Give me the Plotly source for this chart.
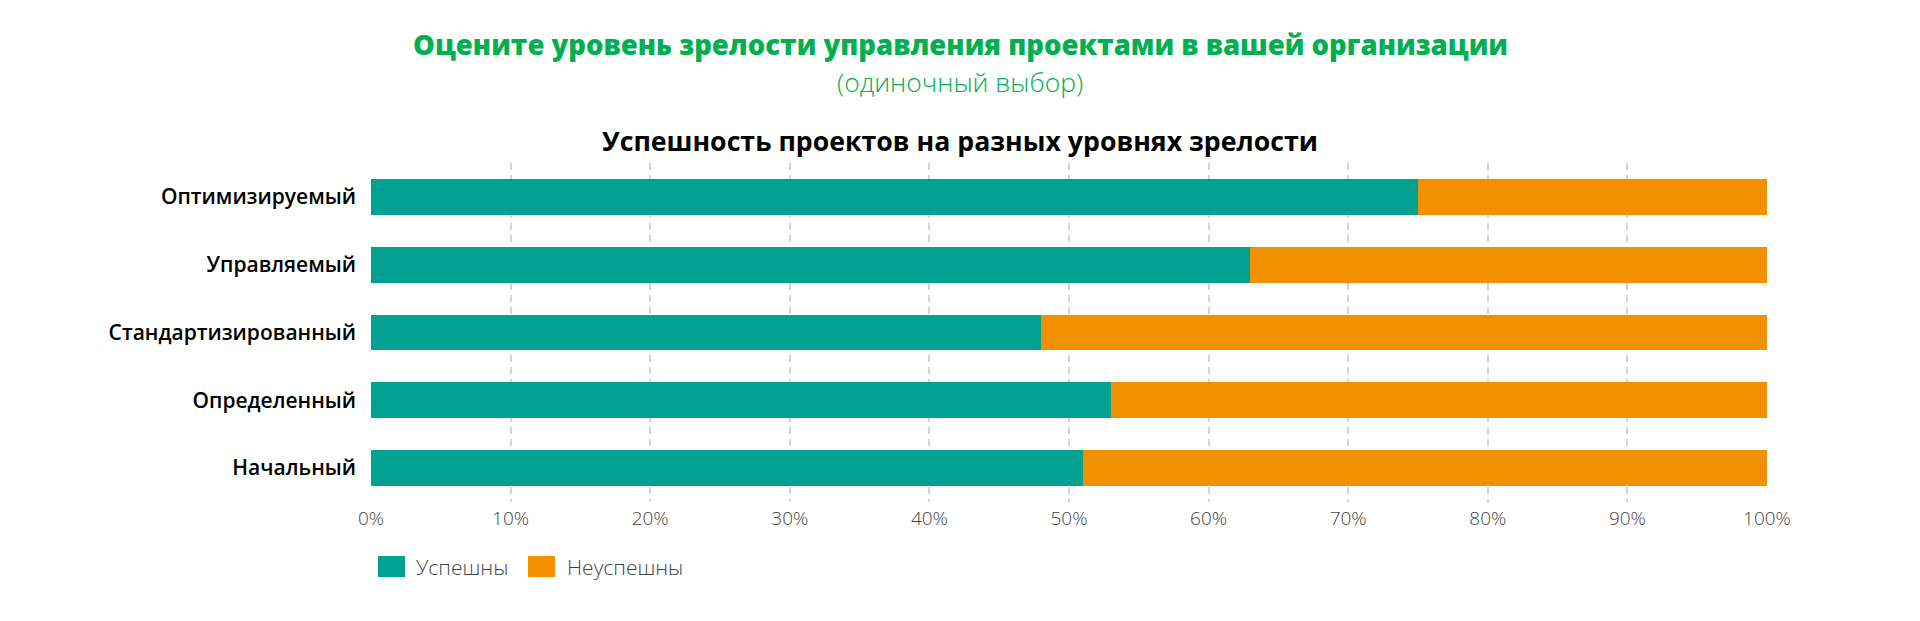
import plotly.graph_objects as go

categories = ["Начальный", "Определенный", "Стандартизированный", "Управляемый", "Оптимизируемый"]
success = [51, 53, 48, 63, 75]
fail = [49, 47, 52, 37, 25]
series_names = ["Успешны", "Неуспешны"]
tick_vals = [0, 10, 20, 30, 40, 50, 60, 70, 80, 90, 100]
tick_text = [f"{v}%" for v in tick_vals]
main_title = "Оцените уровень зрелости управления проектами в вашей организации"
sub_title = "(одиночный выбор)"
chart_title = "Успешность проектов на разных уровнях зрелости"

TEAL = "#00A191"
ORANGE = "#F29100"
GREEN = "#00B050"

# page has an 8px body margin; figure sized to fit the window
OFF = 8
FW, FH = 1904, 605
L, R, T, B = 363, 145, 155, 111
W = FW - L - R
H = FH - T - B

def px(xpage):
    return (xpage - OFF - L) / W

def py(ypage):
    return 1 - (ypage - OFF - T) / H

fig = go.Figure()
fig.add_trace(go.Bar(y=categories, x=success, orientation="h", name=series_names[0],
                     marker=dict(color=TEAL, line=dict(width=0)), width=0.53))
fig.add_trace(go.Bar(y=categories, x=fail, orientation="h", name=series_names[1],
                     marker=dict(color=ORANGE, line=dict(width=0)), width=0.53))

fig.update_layout(
    barmode="stack",
    width=FW, height=FH,
    margin=dict(l=L, r=R, t=T, b=B, autoexpand=False),
    plot_bgcolor="white", paper_bgcolor="white",
    showlegend=False,
    font=dict(family="Open Sans", color="#000"),
    xaxis=dict(range=[0, 100], tickvals=tick_vals, ticktext=tick_text,
               showgrid=True, gridcolor="#d4d4d4", gridwidth=2, griddash="7px,5px",
               zeroline=False, showline=False, ticks="", ticklabelstandoff=3,
               automargin=False,
               tickfont=dict(family="Open Sans", size=19, color="#444", weight=300)),
    yaxis=dict(showgrid=False, zeroline=False, showline=False, ticks="",
               ticklabelstandoff=14, automargin=False,
               tickfont=dict(family="Open Sans", size=21, color="#000", weight=600)),
)

texts = [
    (main_title, 44.5, dict(family="Open Sans", size=27.5, color=GREEN, weight=800)),
    (sub_title, 81.5, dict(family="Open Sans", size=26.5, color=GREEN, weight=300)),
    (chart_title, 140.5, dict(family="Open Sans", size=26.7, color="#000", weight=700)),
]
for txt, yp, fnt in texts:
    fig.add_annotation(text=txt, xref="paper", yref="paper", x=px(960), y=py(yp),
                       xanchor="center", yanchor="middle", showarrow=False, font=fnt)

# custom legend (page coordinates)
legend_items = [(series_names[0], TEAL, 378, 414), (series_names[1], ORANGE, 528, 565)]
for name, color, x0, xt in legend_items:
    fig.add_shape(type="rect", xref="paper", yref="paper",
                  x0=px(x0), x1=px(x0 + 27), y0=py(577), y1=py(556),
                  fillcolor=color, line=dict(width=0))
    fig.add_annotation(text=name, xref="paper", yref="paper", x=px(xt), y=py(567),
                       xanchor="left", yanchor="middle", showarrow=False,
                       font=dict(family="Open Sans", size=21, color="#444", weight=300))

fig.write_html("out.html")
